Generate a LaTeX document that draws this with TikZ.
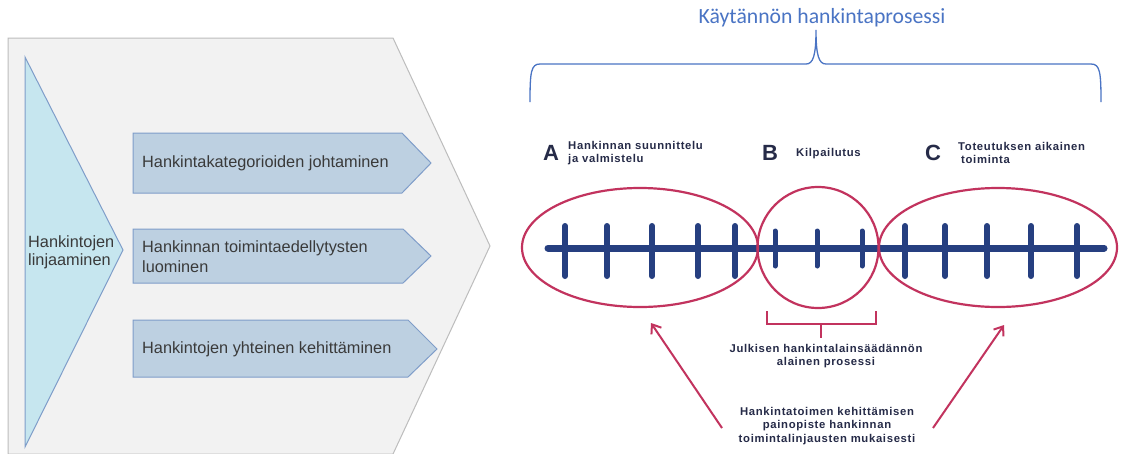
\documentclass[tikz,border=0pt]{standalone}
\usepackage{fontspec}
\setmainfont{Liberation Sans}
\newfontfamily\titlefont{Carlito}
\newfontfamily\boldtrack[LetterSpace=6]{Liberation Sans Bold}
\usetikzlibrary{arrows.meta,shapes.geometric}
\definecolor{panelfill}{HTML}{F2F2F2}
\definecolor{panelline}{HTML}{BDBDBD}
\definecolor{trifill}{HTML}{C6E6EF}
\definecolor{boxfill}{HTML}{BDD0E1}
\definecolor{boxline}{HTML}{7F9DC9}
\definecolor{lefttext}{HTML}{3A3A3A}
\definecolor{titleblue}{HTML}{4A74C4}
\definecolor{navy}{HTML}{263F80}
\definecolor{crimson}{HTML}{C2335E}
\definecolor{darktext}{HTML}{262B48}
\tikzset{
  panel/.style={fill=panelfill,draw=panelline,line width=1pt},
  tri/.style={fill=trifill,draw=boxline,line width=1pt},
  pentbox/.style={fill=boxfill,draw=boxline,line width=1pt},
  boxtext/.style={anchor=west,inner sep=0pt,text=lefttext,align=left,font=\fontsize{16.3}{20}\selectfont},
  tritext/.style={anchor=west,inner sep=0pt,text=lefttext,align=left,font=\fontsize{16.3}{18}\selectfont},
  bigletter/.style={inner sep=0pt,text=darktext,font=\fontsize{22}{22}\bfseries\selectfont},
  smalltext/.style={inner sep=0pt,text=darktext,font=\fontsize{11.3}{13.5}\boldtrack\selectfont},
  ring/.style={draw=crimson,line width=2.2pt},
  axis/.style={draw=navy,line width=7pt,line cap=round},
  bigtick/.style={draw=navy,line width=6pt,line cap=round},
  smalltick/.style={draw=navy,line width=5pt,line cap=round},
  pointer/.style={draw=crimson,line width=2pt,-{Straight Barb[length=8pt,width=12pt,line width=2pt]}},
  bracket/.style={draw=crimson,line width=2.5pt},
  bracestyle/.style={draw=titleblue,line width=1.3pt},
}
\begin{document}
\begin{tikzpicture}[x=1pt,y=-1pt]
\useasboundingbox[fill=white] (0,0) rectangle (1122,453);
% ----- left panel -----
\draw[panel] (8,38) -- (393,38) -- (490,246) -- (393,454) -- (8,454) -- cycle;
\draw[tri] (25,57) -- (123,250) -- (25,447) -- cycle;
\node[tritext] (linj) at (28,252) {Hankintojen\\linjaaminen};
\draw[pentbox] (133,133) -- (402,133) -- (431,163) -- (402,193) -- (133,193) -- cycle;
\draw[pentbox] (133,229) -- (403,229) -- (431,256) -- (403,283) -- (133,283) -- cycle;
\draw[pentbox] (133,320) -- (408,320) -- (437,349) -- (408,377) -- (133,377) -- cycle;
\node[boxtext] (b1) at (142,163) {Hankintakategorioiden johtaminen};
\node[boxtext] (b2) at (142,257) {Hankinnan toimintaedellytysten\\luominen};
\node[boxtext] (b3) at (142,349) {Hankintojen yhteinen kehittäminen};
% ----- title and brace -----
\node[inner sep=0pt,text=titleblue,font=\fontsize{21.7}{24}\titlefont] (title) at (822,18) {Käytännön hankintaprosessi};
\draw[bracestyle] (530,102) .. controls (530,72) and (531,64) .. (540,64) -- (806,64)
  .. controls (813,64) and (816,56) .. (816,30) .. controls (816,56) and (819,64) .. (826,64)
  -- (1091,64) .. controls (1100,64) and (1101,72) .. (1101,102);
% ----- phase labels -----
\node[bigletter] (A) at (551,153) {A};
\node[smalltext,anchor=west,align=left] (At) at (568,153) {Hankinnan suunnittelu\\ja valmistelu};
\node[bigletter] (B) at (770,153) {B};
\node[smalltext,anchor=west] (Bt) at (796,154) {Kilpailutus};
\node[bigletter] (C) at (933,153) {C};
\node[smalltext,anchor=west,align=left] (Ct) at (958,153) {Toteutuksen aikainen\\\hspace*{3pt}toiminta};
% ----- time line -----
\draw[axis] (548,248) -- (1104,248);
\foreach \x in {565,607,652,698,735,905,945,987,1031,1077}
  \draw[bigtick] (\x,226) -- (\x,276);
\foreach \x in {775,817,862}
  \draw[smalltick] (\x,231) -- (\x,266);
% ----- rings -----
\node[ring,ellipse,minimum width=236pt,minimum height=119pt,inner sep=0pt] (eA) at (640,247.5) {};
\node[ring,circle,minimum size=121pt,inner sep=0pt] (eB) at (818,247.5) {};
\node[ring,ellipse,minimum width=238pt,minimum height=119pt,inner sep=0pt] (eC) at (998,247.5) {};
% ----- bracket -----
\coordinate (brL) at (767,311);
\coordinate (brR) at (876,311);
\coordinate (brS) at (821,338);
\draw[bracket] (brL) -- (767,324) -- (876,324) -- (brR);
\draw[bracket] (821,324) -- (brS);
\node[smalltext,align=center] (julk) at (826,356) {Julkisen hankintalainsäädännön\\alainen prosessi};
\node[smalltext,align=center] (kehi) at (827,426) {Hankintatoimen kehittämisen\\painopiste hankinnan\\toimintalinjausten mukaisesti};
% ----- pointers -----
\coordinate (tipL) at (651,323);
\coordinate (tipR) at (1004,325);
\coordinate (tailL) at (722,428);
\coordinate (tailR) at (933,428);
\draw[pointer] (tailL) -- (tipL);
\draw[pointer] (tailR) -- (tipR);
\end{tikzpicture}
\end{document}
